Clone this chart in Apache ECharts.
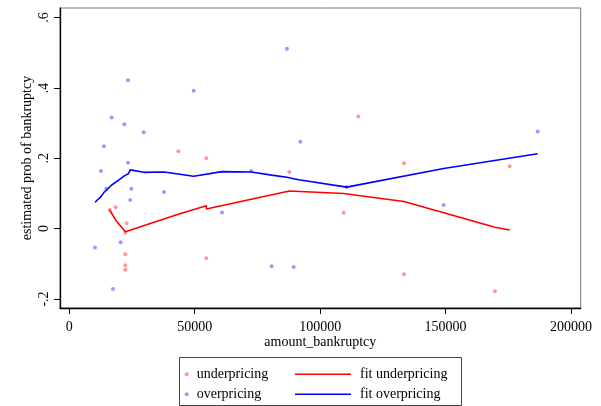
<!DOCTYPE html>
<html>
<head>
<meta charset="utf-8">
<script src="https://cdn.jsdelivr.net/npm/echarts@6/dist/echarts.min.js"></script>
<style>html,body{margin:0;padding:0;background:#fff;}#c{width:601px;height:406px;}</style>
</head>
<body>
<div id="c"></div>
<script>
const xTicks = [0, 50000, 100000, 150000, 200000];
const yTicks = [-0.2, 0, 0.2, 0.4, 0.6];

const underX = [16100, 18500, 22880, 22320, 22320, 22320, 22320, 43450, 54610, 54610, 87700, 109380, 115200, 133420, 133420, 175560, 169700];
const underY = [0.053, 0.061, 0.015, -0.012, -0.073, -0.104, -0.117, 0.220, 0.200, -0.084, 0.161, 0.045, 0.319, 0.186, -0.130, 0.177, -0.178];

const overX = [23400, 16900, 21925, 29660, 13830, 23400, 12640, 14750, 24715, 37750, 24320, 20490, 10245, 17420, 49590, 92080, 72550, 60870, 80680, 89450, 86780, 186720, 149250, 110580];
const overY = [0.422, 0.316, 0.297, 0.274, 0.234, 0.187, 0.164, 0.113, 0.113, 0.104, 0.081, -0.039, -0.054, -0.172, 0.392, 0.247, 0.164, 0.046, -0.107, -0.109, 0.511, 0.276, 0.067, 0.118];

const fitUnderX = [16100, 18500, 22320, 22880, 43450, 54610, 54610, 87700, 109380, 115200, 133420, 169700, 175560];
const fitUnderY = [0.053, 0.024, -0.009, -0.004, 0.041, 0.065, 0.056, 0.107, 0.100, 0.094, 0.077, 0.004, -0.004];

const fitOverX = [10245, 12640, 13830, 14750, 16900, 17420, 20490, 21925, 23400, 24320, 24715, 29660, 37750, 49590, 60870, 72550, 80680, 86780, 89450, 92080, 110580, 149250, 186720];
const fitOverY = [0.075, 0.091, 0.103, 0.109, 0.124, 0.128, 0.142, 0.150, 0.155, 0.167, 0.166, 0.160, 0.161, 0.149, 0.162, 0.161, 0.152, 0.146, 0.142, 0.138, 0.118, 0.171, 0.213];

const zip = (a, b) => a.map((v, i) => [v, b[i]]);
const FONT = 'Liberation Serif';

const chart = echarts.init(document.getElementById('c'), null, {renderer: 'canvas'});
chart.setOption({
  animation: false,
  backgroundColor: '#fff',
  textStyle: {fontFamily: FONT},
  grid: {left: 60, right: 20.3, top: 8, bottom: 98, show: true, borderColor: '#777', borderWidth: 1, backgroundColor: '#fff'},
  xAxis: {
    type: 'value', min: -3708, max: 203880,
    name: 'amount_bankruptcy', nameLocation: 'middle', nameGap: 27, nameMoveOverlap: false,
    nameTextStyle: {fontFamily: FONT, fontSize: 14, color: '#000'},
    axisLine: {show: true, onZero: false, lineStyle: {color: '#000', width: 1.3}},
    axisTick: {show: true, length: 6, customValues: xTicks, lineStyle: {color: '#000', width: 1}},
    axisLabel: {customValues: xTicks, margin: 12, fontFamily: FONT, fontSize: 14, color: '#000', formatter: v => String(v)},
    splitLine: {show: false}
  },
  yAxis: {
    type: 'value', min: -0.2257, max: 0.6272,
    name: 'estimated prob of bankruptcy', nameLocation: 'middle', nameGap: 26, nameMoveOverlap: false,
    nameTextStyle: {fontFamily: FONT, fontSize: 14, color: '#000'},
    axisLine: {show: true, onZero: false, lineStyle: {color: '#000', width: 1.3}},
    axisTick: {show: true, length: 6, customValues: yTicks, lineStyle: {color: '#000', width: 1}},
    axisLabel: {
      customValues: yTicks, rotate: 90, margin: 9, fontFamily: FONT, fontSize: 14, color: '#000',
      formatter: v => { const r = Math.round(v * 10) / 10; if (r === 0) return '0'; return r.toFixed(1).replace(/^(-?)0\./, '$1.'); }
    },
    splitLine: {show: false}
  },
  legend: [
    {
      data: ['underpricing', 'overpricing'], orient: 'vertical', left: 184.7, top: 366.3,
      width: 100, height: 50, padding: 0,
      itemWidth: 4, itemHeight: 4, itemGap: 4, icon: 'circle',
      textStyle: {fontFamily: FONT, fontSize: 14, color: '#000', lineHeight: 16, padding: [0, 0, 0, 3]},
      selectedMode: false
    },
    {
      data: ['fit underpricing', 'fit overpricing'], orient: 'vertical', left: 295, top: 366.3,
      width: 170, height: 50, padding: 0,
      itemWidth: 56, itemHeight: 1.6, itemGap: 4, icon: 'rect',
      textStyle: {fontFamily: FONT, fontSize: 14, color: '#000', lineHeight: 16, padding: [0, 0, 0, 4]},
      selectedMode: false
    }
  ],
  graphic: [{
    type: 'rect', silent: true, z: 0,
    shape: {x: 179.5, y: 357.5, width: 282, height: 48},
    style: {fill: 'none', stroke: '#444', lineWidth: 1}
  }],
  series: [
    {name: 'underpricing', type: 'scatter', data: zip(underX, underY), symbol: 'circle', symbolSize: 4,
     itemStyle: {color: '#ff8080'}, z: 2},
    {name: 'overpricing', type: 'scatter', data: zip(overX, overY), symbol: 'circle', symbolSize: 4,
     itemStyle: {color: '#8080ff'}, z: 2},
    {name: 'fit underpricing', type: 'line', data: zip(fitUnderX, fitUnderY), symbol: 'none', showSymbol: false,
     lineStyle: {color: '#ff0000', width: 1.6}, itemStyle: {color: '#ff0000'}, z: 3},
    {name: 'fit overpricing', type: 'line', data: zip(fitOverX, fitOverY), symbol: 'none', showSymbol: false,
     lineStyle: {color: '#0000ff', width: 1.6}, itemStyle: {color: '#0000ff'}, z: 3}
  ]
});
</script>
</body>
</html>
